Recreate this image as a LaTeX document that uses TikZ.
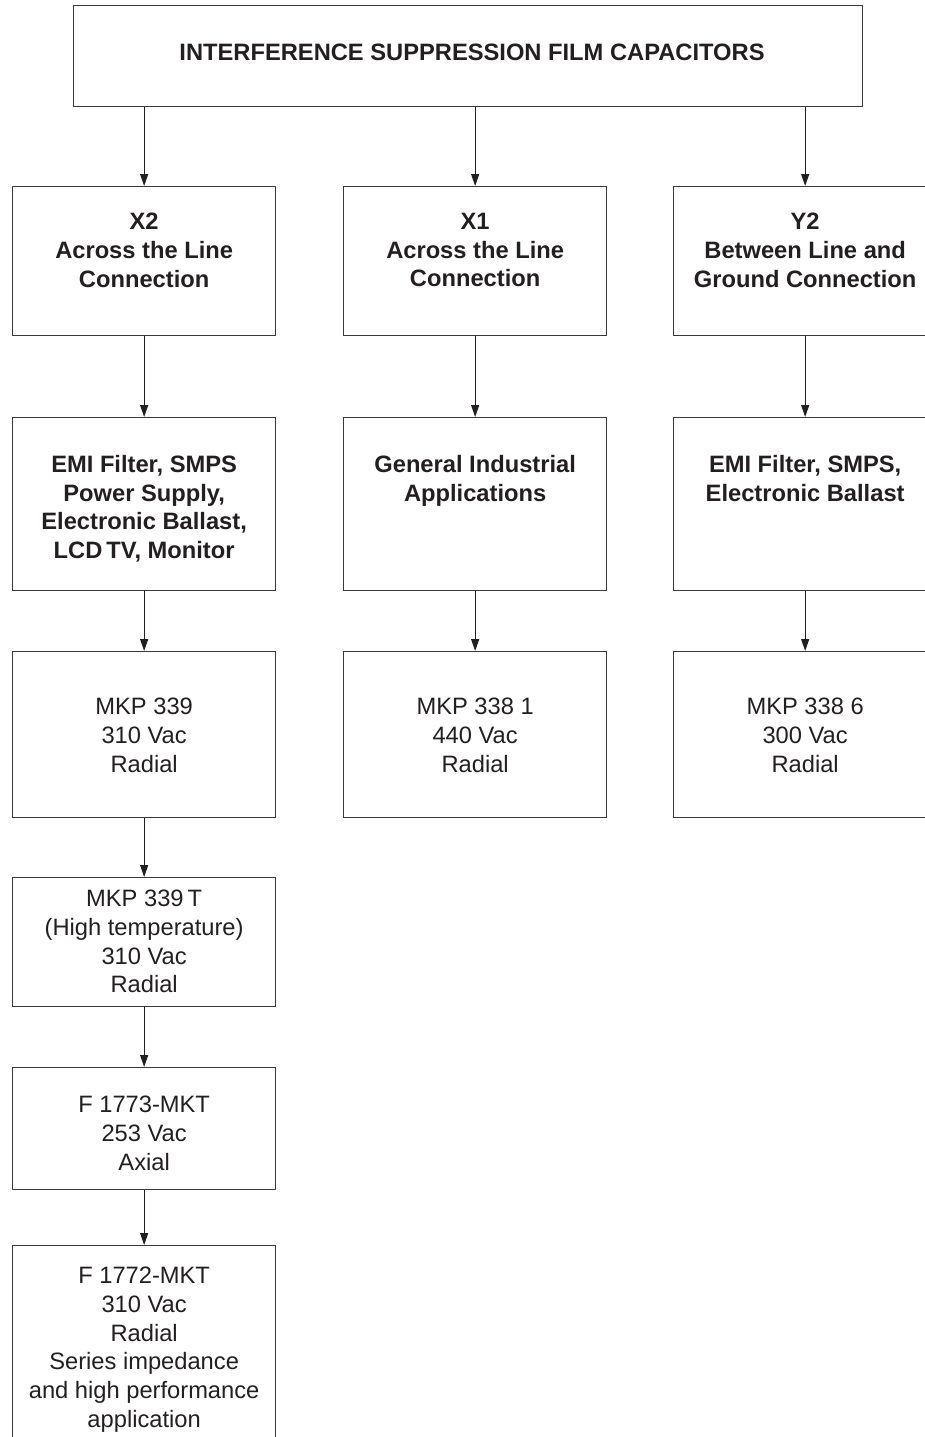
\documentclass[tikz,border=0pt]{standalone}
\usepackage{fontspec}
\setmainfont{Liberation Sans}
\usetikzlibrary{arrows.meta}
\definecolor{ink}{HTML}{231F20}
\definecolor{frame}{HTML}{3A3A3A}
\begin{document}
\begin{tikzpicture}[x=1pt,y=-1pt,
  box/.style={draw=frame, line width=1.3pt, minimum width=263pt, inner sep=0pt, anchor=north west},
  txt/.style={text=ink, align=center, inner sep=0pt, anchor=north,
    font=\fontsize{23.7}{28.7}\selectfont},
  btxt/.style={txt, font=\fontsize{23.7}{28.7}\selectfont\bfseries},
  arr/.style={draw=ink, line width=1.2pt, -{Triangle[length=12pt,width=8pt]}},
]
\useasboundingbox (0,0) rectangle (925,1437);
\clip (0,0) rectangle (925,1437);

% heading
\node[box, minimum width=789pt, minimum height=101pt] (top) at (73,5) {};
\node[btxt] (topt) at (472,43.3) {INTERFERENCE SUPPRESSION FILM CAPACITORS};

% capacitor classes
\node[box, minimum height=149pt] (x2)  at (12,186) {};
\node[box, minimum height=149pt] (x1)  at (343,186) {};
\node[box, minimum height=149pt] (y2)  at (673,186) {};
\node[btxt] at ([yshift=-27pt]x2.north) {X2\\Across the Line\\Connection};
\node[btxt] at ([yshift=-27pt]x1.north) {X1\\Across the Line\\Connection};
\node[btxt] at ([yshift=-27pt]y2.north) {Y2\\Between Line and\\Ground Connection};

% applications
\node[box, minimum height=173pt] (x2a) at (12,417) {};
\node[box, minimum height=173pt] (x1a) at (343,417) {};
\node[box, minimum height=173pt] (y2a) at (673,417) {};
\node[btxt] at ([yshift=-38pt]x2a.north) {EMI Filter, SMPS\\Power Supply,\\Electronic Ballast,\\LCD\,TV, Monitor};
\node[btxt] at ([yshift=-38pt]x1a.north) {General Industrial\\Applications};
\node[btxt] at ([yshift=-38pt]y2a.north) {EMI Filter, SMPS,\\Electronic Ballast};

% product series
\node[box, minimum height=166pt] (x2p) at (12,651) {};
\node[box, minimum height=166pt] (x1p) at (343,651) {};
\node[box, minimum height=166pt] (y2p) at (673,651) {};
\node[txt] at ([yshift=-47pt]x2p.north) {MKP 339\\310 Vac\\Radial};
\node[txt] at ([yshift=-47pt]x1p.north) {MKP 338 1\\440 Vac\\Radial};
\node[txt] at ([yshift=-47pt]y2p.north) {MKP 338 6\\300 Vac\\Radial};

% further X2 series
\node[box, minimum height=129pt] (x2t) at (12,877) {};
\node[txt] at ([yshift=-13pt]x2t.north) {MKP 339\,T\\(High temperature)\\310 Vac\\Radial};
\node[box, minimum height=122pt] (x2m) at (12,1067) {};
\node[txt] at ([yshift=-29pt]x2m.north) {F 1773-MKT\\253 Vac\\Axial};
\node[box, minimum height=240pt] (x2r) at (12,1245) {};
\node[txt] at ([yshift=-22pt]x2r.north) {F 1772-MKT\\310 Vac\\Radial\\Series impedance\\and high performance\\application};

% connectors
\draw[arr] (top.south -| x2.north) -- (x2.north);
\draw[arr] (top.south -| x1.north) -- (x1.north);
\draw[arr] (top.south -| y2.north) -- (y2.north);
\draw[arr] (x2.south) -- (x2a.north);
\draw[arr] (x1.south) -- (x1a.north);
\draw[arr] (y2.south) -- (y2a.north);
\draw[arr] (x2a.south) -- (x2p.north);
\draw[arr] (x1a.south) -- (x1p.north);
\draw[arr] (y2a.south) -- (y2p.north);
\draw[arr] (x2p.south) -- (x2t.north);
\draw[arr] (x2t.south) -- (x2m.north);
\draw[arr] (x2m.south) -- (x2r.north);
\end{tikzpicture}
\end{document}
